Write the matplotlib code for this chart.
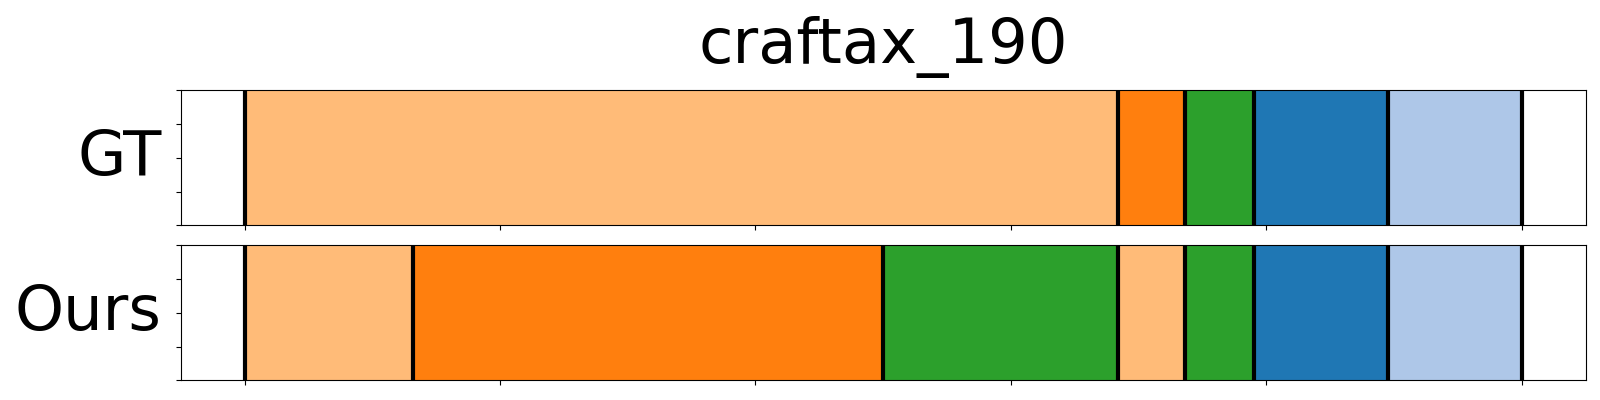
import matplotlib
matplotlib.use("Agg")
import matplotlib.pyplot as plt

title = "craftax_190"
row_names = ["GT", "Ours"]

# segment boundaries (start/end) and action classes per row
gt_starts = [0.0, 68.4, 73.6, 79.0, 89.5]
gt_ends = [68.4, 73.6, 79.0, 89.5, 100.0]
gt_classes = [0, 1, 2, 3, 4]

ours_starts = [0.0, 13.2, 50.0, 68.4, 73.6, 79.0, 89.5]
ours_ends = [13.2, 50.0, 68.4, 73.6, 79.0, 89.5, 100.0]
ours_classes = [0, 1, 2, 0, 2, 3, 4]

class_colors = ["#ffbb78", "#ff7f0e", "#2ca02c", "#1f77b4", "#aec7e8"]

y_ticks = [0.0, 0.25, 0.5, 0.75, 1.0]

fig = plt.figure(figsize=(16, 4), dpi=100)
ax_gt = fig.add_axes([0.113, 0.437, 0.878, 0.337])
ax_ours = fig.add_axes([0.113, 0.049, 0.878, 0.338], sharex=ax_gt)

rows = [(ax_gt, gt_starts, gt_ends, gt_classes),
        (ax_ours, ours_starts, ours_ends, ours_classes)]

for (ax, starts, ends, classes), name in zip(rows, row_names):
    for s, e, c in zip(starts, ends, classes):
        ax.axvspan(s, e, color=class_colors[c], lw=0)
    bounds = sorted(set(starts) | set(ends))
    for b in bounds:
        ax.axvline(b, color="black", lw=3)
    ax.margins(x=0.05)
    ax.set_ylim(0, 1)
    ax.set_yticks(y_ticks)
    ax.tick_params(labelbottom=False, labelleft=False)
    ax.set_ylabel(name, rotation=0, fontsize=45, ha="right", va="center")
    ax.yaxis.set_label_coords(-0.0135, 0.5)

ax_gt.set_title(title, fontsize=45, pad=20)

fig.savefig("out.png", dpi=100)
